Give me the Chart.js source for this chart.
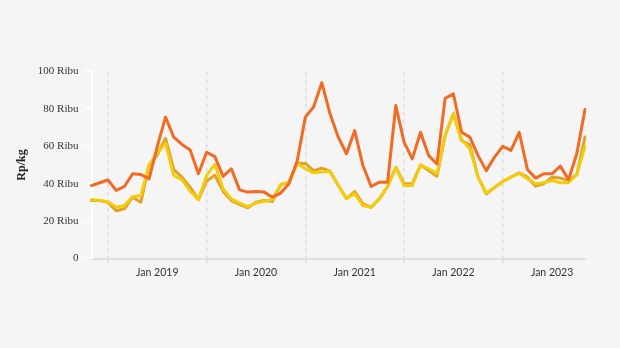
<!DOCTYPE html>
<html>
<head>
<meta charset="utf-8">
<script src="https://cdn.jsdelivr.net/npm/chart.js@4.4.1/dist/chart.umd.min.js"></script>
<style>
  html, body { margin: 0; padding: 0; background: #f5f5f5; }
  canvas { display: block; }
</style>
</head>
<body>
<canvas id="chartId" width="620" height="348"></canvas>
<script>
// bulan, Mei 2018 - Mei 2023
const months = [
    '2018-05', '2018-06', '2018-07', '2018-08', '2018-09', '2018-10', '2018-11', '2018-12',
    '2019-01', '2019-02', '2019-03', '2019-04', '2019-05', '2019-06', '2019-07', '2019-08',
    '2019-09', '2019-10', '2019-11', '2019-12', '2020-01', '2020-02', '2020-03', '2020-04',
    '2020-05', '2020-06', '2020-07', '2020-08', '2020-09', '2020-10', '2020-11', '2020-12',
    '2021-01', '2021-02', '2021-03', '2021-04', '2021-05', '2021-06', '2021-07', '2021-08',
    '2021-09', '2021-10', '2021-11', '2021-12', '2022-01', '2022-02', '2022-03', '2022-04',
    '2022-05', '2022-06', '2022-07', '2022-08', '2022-09', '2022-10', '2022-11', '2022-12',
    '2023-01', '2023-02', '2023-03', '2023-04', '2023-05'
];

// harga dalam ribu rupiah per kg
const konsumen = [
    39, 40.5, 42, 36.4, 38.5, 45.3, 44.9, 42.6, 60, 75.6, 64.9, 61, 58, 45.3, 56.8, 54.5,
    43.9, 48, 36.7, 35.5, 35.8, 35.5, 32.8, 35, 40, 52, 75.6, 81, 94, 77.4, 64.9, 56,
    68.4, 49.7, 38.5, 40.8, 40.8, 81.8, 62.2, 53.3, 67.5, 55, 50.6, 85.7, 88, 67.5, 64.9, 55,
    47, 54.2, 60, 57.8, 67.5, 47.6, 43, 45.3, 45.3, 49.4, 42.2, 56, 79.7
];
const pedagang = [
    31.5, 31, 30.3, 27.4, 28.3, 33, 33.7, 50, 56.5, 61.5, 44.4, 42, 36, 31.5, 44.4, 50.3,
    37.3, 31.9, 29.6, 27.8, 29.6, 30.6, 31.5, 39.5, 40.8, 50.8, 48, 45.8, 46.2, 46.7, 39, 32,
    34.6, 28.3, 27.4, 31.9, 38.5, 48.8, 39, 39, 50, 48, 45.3, 65.8, 77.4, 63.6, 58.6, 43.5,
    35, 38, 41.2, 43.5, 45.6, 42.6, 40, 40.5, 41.7, 40.5, 40.5, 44.8, 60
];
const produsen = [
    31, 31, 30, 25.5, 26.6, 32.8, 30.1, 50, 55.5, 64.2, 47.5, 43.5, 38, 31.5, 41.5, 44.5,
    36, 31, 28.9, 27.1, 30.1, 31, 30.5, 39.5, 40.8, 51, 50.8, 47, 48.3, 46.7, 39, 32,
    35.8, 29.2, 27.4, 31.9, 38.5, 48.8, 40, 40, 50, 47, 44, 65.8, 77.4, 63, 60.8, 43.5,
    34.5, 38, 41.2, 43.5, 45.8, 43.5, 38.7, 40, 43.5, 43, 41.7, 44.8, 65
];

const yTicks = [0, 20, 40, 60, 80, 100];

function lineSet(label, data, color) {
    return {
        label: label,
        data: data,
        borderColor: color,
        backgroundColor: color,
        borderWidth: 3,
        pointRadius: 0,
        tension: 0,
        borderJoinStyle: 'round',
        borderCapStyle: 'round'
    };
}

// garis putus-putus tiap Juli
function gridColor(ctx) {
    const m = months[ctx.index];
    return m && m.endsWith('-07') ? '#dcdcdc' : 'rgba(0,0,0,0)';
}

const chrt = document.getElementById('chartId').getContext('2d');
const chartId = new Chart(chrt, {
    type: 'line',
    data: {
        labels: months,
        datasets: [
            lineSet('Konsumen', konsumen, '#f26b23'),
            lineSet('Pedagang Besar', pedagang, '#f5cc0c'),
            lineSet('Produsen', produsen, '#e0a327')
        ]
    },
    options: {
        responsive: false,
        animation: false,
        layout: { padding: { top: 71.5, right: 35, left: 0, bottom: 0 } },
        plugins: {
            legend: { display: false },
            tooltip: { enabled: false }
        },
        scales: {
            x: {
                afterFit: function (s) { s.height = 89.5; },
                grid: {
                    color: gridColor,
                    tickColor: gridColor,
                    lineWidth: 1.5,
                    tickWidth: 1.5,
                    tickLength: 5,
                    tickBorderDash: [4, 4]
                },
                border: { color: '#dedede', width: 2, dash: [4, 4] },
                ticks: {
                    autoSkip: false,
                    maxRotation: 0,
                    padding: 3,
                    color: '#333',
                    font: { family: 'Lato', size: 10.5 },
                    callback: function (value, index) {
                        const m = months[index];
                        return m.endsWith('-01') ? 'Jan ' + m.slice(0, 4) : '';
                    }
                }
            },
            y: {
                min: 0,
                max: 100,
                afterFit: function (s) { s.width = 91.5; },
                afterBuildTicks: function (s) { s.ticks = yTicks.map(v => ({ value: v })); },
                grid: {
                    drawOnChartArea: false,
                    tickColor: '#ffffff',
                    tickLength: 6,
                    tickWidth: 2
                },
                border: { color: '#ffffff', width: 2 },
                ticks: {
                    padding: 7,
                    color: '#333',
                    font: { family: 'Liberation Serif', size: 11 },
                    callback: function (value) { return value === 0 ? '0' : value + ' Ribu'; }
                },
                title: {
                    display: true,
                    text: 'Rp/kg',
                    color: '#222',
                    padding: { top: 15, bottom: 0 },
                    font: { family: 'Liberation Serif', size: 12, weight: 'bold' }
                }
            }
        }
    }
});
</script>
</body>
</html>
